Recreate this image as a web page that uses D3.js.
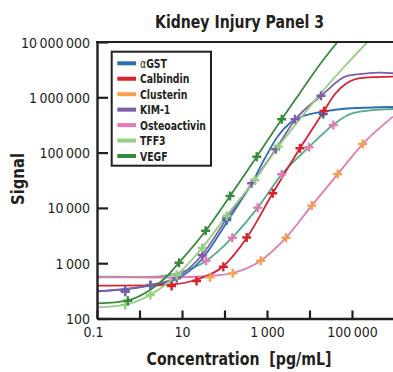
<!DOCTYPE html>
<html>
<head>
<meta charset="utf-8">
<script src="https://cdn.jsdelivr.net/npm/d3@7"></script>
<style>
  body { margin: 0; background: #fff; }
  svg { display: block; }
  text { fill: #231f20; font-family: "Liberation Sans Narrow", "DejaVu Sans Condensed", "Roboto Condensed", "Open Sans", sans-serif; }
</style>
</head>
<body>
<svg id="chart" width="393" height="372"></svg>
<script>
// values (concentration pg/mL, signal)
var analytes = ["αGST", "Calbindin", "Clusterin", "KIM-1", "Osteoactivin", "TFF3", "VEGF"];

var xTickValues = [0.1, 1, 10, 100, 1000, 10000, 100000];
var xTickLabels = ["0.1", "", "10", "", "1\u2009000", "", "100\u2009000"];
var yTickValues = [100, 1000, 10000, 100000, 1000000, 10000000];
var yTickLabels = ["100", "1\u2009000", "10\u2009000", "100\u2009000", "1\u2009000\u2009000", "10\u2009000\u2009000"];

// fitted curves
var curveGST = [[0.1,308],[1.77,395],[7.6,518],[29.6,1191],[115,5560],[232,12800],[444,28200],[897,79800],[1816,200000],[3475,343000],[6660,450000],[20790,553000],[76250,627000],[923000,668000]];
var curveCalbindin = [[0.1,392],[1.77,398],[5.8,412],[22.5,507],[92,871],[338,2920],[1362,18400],[5970,120000],[21950,565000],[39810,1150000],[76250,1820000],[181600,2240000],[923000,2360000]];
var curveClusterin = [[0.1,556],[1.77,551],[15.4,563],[45.6,587],[156,665],[711,1110],[2800,2890],[11270,11000],[46100,41000],[178600,143000],[923000,446000]];
var curveKIM1 = [[0.1,314],[1.77,403],[7.5,551],[29.6,1407],[115,6570],[444,27900],[1603,115000],[4560,389000],[18660,1060000],[76250,2430000],[202400,2690000],[456000,2790000],[923000,2720000]];
var curveOsteoactivin = [[0.1,571],[1.77,563],[5.2,612],[9.0,679],[36.7,1096],[150,2860],[604,10100],[2218,40500],[9720,126000],[35730,315000],[76250,469000],[202400,565000],[923000,614000]];
var curveTFF3 = [[0.1,159],[0.45,176],[1.77,266],[7.6,612],[29.6,1885],[115,7450],[522,32000],[1846,128000],[5970,405000],[19690,1250000],[64860,3530000],[225300,9790000]];
var curveVEGF = [[0.1,188],[0.265,195],[0.53,212],[1.77,328],[4.0,540],[8.5,1021],[36,3870],[135,16400],[573,84300],[2218,400000],[5970,1200000],[15850,3530000],[44360,9790000]];

// standards (+ markers)
var ptsGST = [[0.46,318],[1.8,395],[113,6000],[21000,500000]];
var ptsCalbindin = [[5.7,387],[22,476],[94,865],[333,2920],[1362,18400],[5970,120000],[21950,565000]];
var ptsClusterin = [[45.6,556],[156,656],[711,1110],[2800,2890],[11270,11000],[46100,41000],[178600,143000]];
var ptsKIM1 = [[0.46,305],[1.8,403],[7.5,533],[30,1407],[113,6650],[436,27900],[1603,115000],[4560,400000],[18660,1070000]];
var ptsOsteoactivin = [[36.7,1110],[153,2890],[604,10100],[2218,40500],[9720,125000],[36300,315000]];
var ptsTFF3 = [[0.46,176],[1.8,266],[7.5,612],[30,1885],[113,7140],[522,32000],[1846,128000]];
var ptsVEGF = [[0.53,210],[8.5,1021],[36,3870],[135,16400],[573,84300],[2218,400000]];

var curves = [curveGST, curveCalbindin, curveClusterin, curveKIM1, curveOsteoactivin, curveTFF3, curveVEGF];
var points = [ptsGST, ptsCalbindin, ptsClusterin, ptsKIM1, ptsOsteoactivin, ptsTFF3, ptsVEGF];

// legend / marker colours and curve colours (curves of Clusterin and Osteoactivin differ in the original)
var keyColors = ["#2c6fb2", "#d6232f", "#f6a04c", "#7f5ea8", "#e57ab3", "#93cf82", "#378a3c"];
var lineColors = ["#2c6fb2", "#d6232f", "#e57ab3", "#7f5ea8", "#5aae87", "#93cf82", "#378a3c"];
var drawOrder = [4, 2, 0, 1, 3, 5, 6];

var svg = d3.select("#chart");
var x = d3.scaleLog().domain([0.1, 1e6]).range([97, 394.5]);
var y = d3.scaleLog().domain([100, 1e7]).range([318.5, 42]);

// no condensed face installed: squeeze text to the width it has in the original
function squeeze(t, width) {
  var w = t.node().getComputedTextLength();
  if (w > width) t.attr("textLength", width).attr("lengthAdjust", "spacingAndGlyphs");
}

svg.append("defs").append("clipPath").attr("id", "plotclip")
  .append("rect").attr("x", 97).attr("y", 42).attr("width", 300).attr("height", 276.5);

// title
var title = svg.append("text").attr("x", 239.5).attr("y", 28).attr("text-anchor", "middle")
  .style("font-size", "17.5px").style("font-weight", "bold").text("Kidney Injury Panel 3");
squeeze(title, 169);

// curves
var line = d3.line().x(function(d) { return x(d[0]); }).y(function(d) { return y(d[1]); })
  .curve(d3.curveMonotoneX);
var gLines = svg.append("g").attr("clip-path", "url(#plotclip)");
drawOrder.forEach(function(i) {
  gLines.append("path").datum(curves[i])
    .attr("d", line)
    .style("fill", "none")
    .style("stroke", lineColors[i])
    .style("stroke-width", 1.8);
});

// markers
var gPts = svg.append("g");
drawOrder.forEach(function(i) {
  gPts.selectAll(null).data(points[i]).enter().append("path")
    .attr("d", function(d) {
      var cx = x(d[0]), cy = y(d[1]), r = 4.5;
      return "M" + (cx - r) + "," + cy + "H" + (cx + r) + "M" + cx + "," + (cy - r) + "V" + (cy + r);
    })
    .style("stroke", keyColors[i])
    .style("stroke-width", 2.4)
    .style("fill", "none");
});

// axes
var xAxis = d3.axisBottom(x).tickValues(xTickValues)
  .tickFormat(function(d, i) { return xTickLabels[i]; })
  .tickSizeInner(-8).tickSizeOuter(0).tickPadding(6);
var yAxis = d3.axisLeft(y).tickValues(yTickValues)
  .tickFormat(function(d, i) { return yTickLabels[i]; })
  .tickSizeInner(-11).tickSizeOuter(0).tickPadding(7);

var gx = svg.append("g").attr("transform", "translate(0,318.5)").call(xAxis);
var gy = svg.append("g").attr("transform", "translate(97,0)").call(yAxis);
[gx, gy].forEach(function(g) {
  g.select(".domain").style("stroke", "#231f20").style("stroke-width", 2.4);
  g.selectAll(".tick line").style("stroke", "#231f20").style("stroke-width", 2.2);
  g.selectAll(".tick text").style("font-size", "14px").style("font-family", null).style("fill", "#231f20");
});
gx.selectAll(".tick text").attr("y", 9).attr("dx", function(d) { return d == 0.1 ? -4 : 0; });
gy.selectAll(".tick text").attr("dy", "0.36em");
// top frame line
svg.append("line").attr("x1", 96).attr("x2", 393).attr("y1", 42).attr("y2", 42)
  .style("stroke", "#231f20").style("stroke-width", 2.2);

// axis titles
var xTitle = svg.append("text").attr("x", 239).attr("y", 365).attr("text-anchor", "middle")
  .style("font-size", "17.5px").style("font-weight", "bold").style("white-space", "pre")
  .text("Concentration  [pg/mL]");
squeeze(xTitle, 185);
var yTitle = svg.append("text").attr("transform", "translate(24,179) rotate(-90)").attr("text-anchor", "middle")
  .style("font-size", "17.5px").style("font-weight", "bold").text("Signal");
squeeze(yTitle, 52);

// legend
var lg = svg.append("g");
lg.append("rect").attr("x", 111.7).attr("y", 51.7).attr("width", 99.3).attr("height", 114)
  .style("fill", "#fff").style("stroke", "#231f20").style("stroke-width", 2);
var legendTexts = [];
analytes.forEach(function(name, i) {
  var ly = 63.3 + i * 15.45;
  lg.append("line").attr("x1", 117.3).attr("x2", 136).attr("y1", ly).attr("y2", ly)
    .style("stroke", keyColors[i]).style("stroke-width", 4);
  var t = lg.append("text").attr("x", 0).attr("y", 0)
    .attr("transform", "translate(140," + (ly + 4.6) + ")")
    .style("font-size", "13px").style("font-weight", "bold");
  if (name.charAt(0) == "α") {
    t.append("tspan").style("font-weight", "normal").text("α");
    t.append("tspan").text(name.slice(1));
  } else {
    t.text(name);
  }
  legendTexts.push({ t: t, y: ly + 4.6 });
});
// same horizontal squeeze for every entry, taken from the longest one
var longest = d3.max(legendTexts, function(d) { return d.t.node().getComputedTextLength(); });
var factor = Math.min(1, 66 / longest);
legendTexts.forEach(function(d) {
  d.t.attr("transform", "translate(140," + d.y + ") scale(" + factor + ",1)");
});
</script>
</body>
</html>
